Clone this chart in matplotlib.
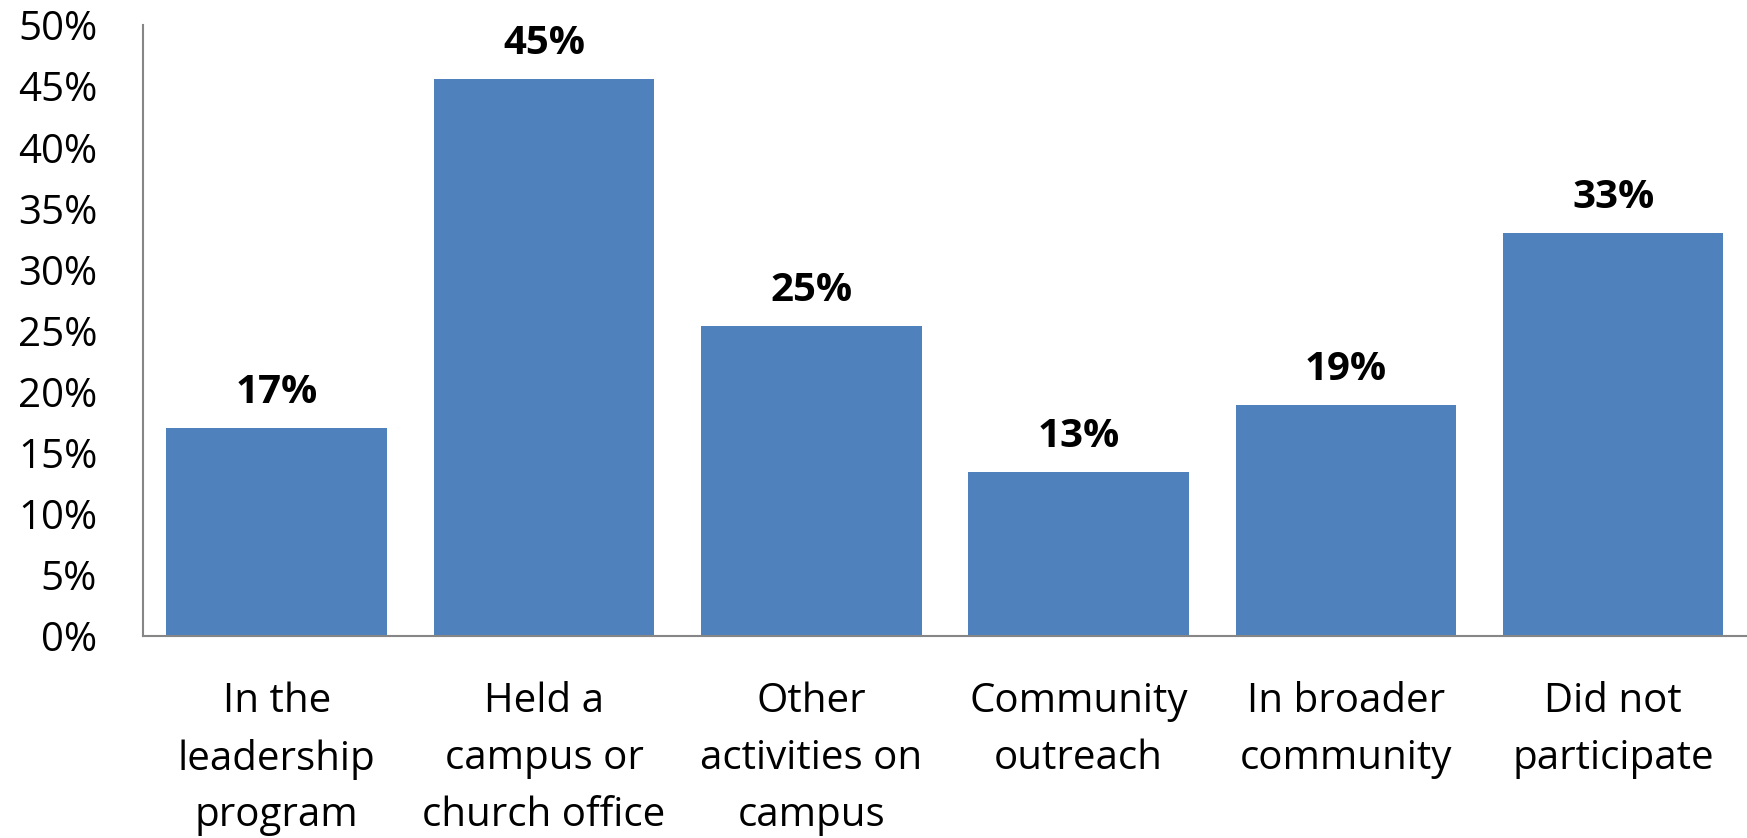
import matplotlib.pyplot as plt
from matplotlib.ticker import FuncFormatter

plt.rcParams['font.family'] = ['Open Sans', 'DejaVu Sans']

categories = ['In the\nleadership\nprogram', 'Held a\ncampus or\nchurch office',
              'Other\nactivities on\ncampus', 'Community\noutreach',
              'In broader\ncommunity', 'Did not\nparticipate']
values = [17.0, 45.6, 25.4, 13.4, 18.9, 33.0]
value_labels = ['17%', '45%', '25%', '13%', '19%', '33%']
yticks = [0, 5, 10, 15, 20, 25, 30, 35, 40, 45, 50]

fig = plt.figure(figsize=(17.47, 8.38), dpi=100)
ax = fig.add_axes([0.0819, 0.241, 0.918, 0.729])

x = range(len(categories))
bars = ax.bar(x, values, width=0.825, color='#4F81BD')

for b, lab in zip(bars, value_labels):
    ax.annotate(lab, (b.get_x() + b.get_width() / 2, b.get_height()),
                xytext=(0, 18), textcoords='offset points',
                ha='center', va='baseline', fontsize=29, fontweight='bold')

ax.set_xlim(-0.5, len(categories) - 0.5)
ax.set_ylim(0, 50)
ax.set_yticks(yticks)
ax.yaxis.set_major_formatter(FuncFormatter(lambda v, p: '%d%%' % v))
ax.set_xticks(list(x))
ax.set_xticklabels(categories, fontsize=29, linespacing=1.53)
ax.tick_params(axis='y', length=0, pad=33, labelsize=29)
ax.tick_params(axis='x', length=0, pad=33)

for s in ['top', 'right']:
    ax.spines[s].set_visible(False)
for s in ['left', 'bottom']:
    ax.spines[s].set_color('#868686')
    ax.spines[s].set_linewidth(1.5)

fig.savefig('out.png', dpi=100)
